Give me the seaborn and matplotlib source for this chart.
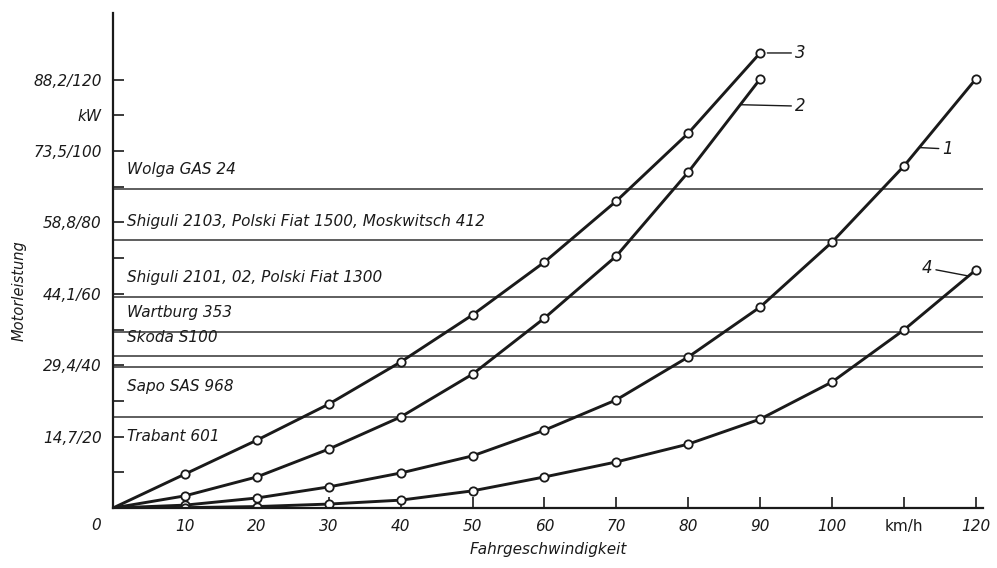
import matplotlib
matplotlib.use("Agg")
import matplotlib.pyplot as plt
import seaborn as sns
import pandas as pd

# ---------------- data ----------------
speed = [0, 10, 20, 30, 40, 50, 60, 70, 80, 90, 100, 110, 120]  # km/h
curve_3 = [0, 9.5, 19.0, 29.1, 40.9, 54.1, 68.9, 86.0, 105.0, 127.5]
curve_2 = [0, 3.4, 8.7, 16.5, 25.5, 37.5, 53.2, 70.6, 94.1, 120.2]
curve_1 = [0, 0.8, 2.8, 5.9, 9.8, 14.6, 21.8, 30.3, 42.3, 56.3, 74.5, 95.8, 120.2]
curve_4 = [0, 0.1, 0.4, 1.1, 2.2, 4.8, 8.7, 12.9, 17.9, 24.9, 35.3, 49.9, 66.7]
curve_names = ["3", "2", "1", "4"]

cars = ["Wolga GAS 24",
        "Shiguli 2103, Polski Fiat 1500, Moskwitsch 412",
        "Shiguli 2101, 02, Polski Fiat 1300",
        "Wartburg 353",
        "Skoda S100",
        "Sapo SAS 968",
        "Trabant 601"]
car_ps = [89.5, 75.0, 59.2, 49.4, 42.5, 39.4, 25.4]
car_label_side = ["above", "above", "above", "above", "above", "below", "below"]

ytick_vals = [10, 20, 30, 40, 50, 60, 70, 80, 90, 100, 110, 120]
ytick_labels = ["", "14,7/20", "", "29,4/40", "", "44,1/60", "", "58,8/80",
                "", "73,5/100", "kW", "88,2/120"]
xtick_vals = [0, 10, 20, 30, 40, 50, 60, 70, 80, 90, 100, 110, 120]
xtick_labels = ["", "10", "20", "30", "40", "50", "60", "70", "80", "90",
                "100", "km/h", "120"]
origin_label = "0"

# ---------------- figure ----------------
sns.set_theme(style="white")
plt.rcParams["font.family"] = ["DejaVu Sans"]
ink = "#1a1a1a"

fig = plt.figure(figsize=(9.97, 5.68), dpi=100)
ax = fig.add_axes([113 / 997, 60 / 568, 870 / 997, 495 / 568])

rows = []
for name, vals in zip(curve_names, [curve_3, curve_2, curve_1, curve_4]):
    for v, p in zip(speed, vals):
        rows.append({"v": v, "ps": p, "curve": name})
df = pd.DataFrame(rows)

for name in curve_names:
    sub = df[df["curve"] == name]
    sns.lineplot(data=sub, x="v", y="ps", ax=ax, color=ink, lw=2.1,
                 marker="o", markersize=6, markerfacecolor="white",
                 markeredgecolor=ink, markeredgewidth=1.3,
                 markevery=list(range(1, len(sub))), zorder=4)

# horizontal reference lines for cars
for name, ps, side in zip(cars, car_ps, car_label_side):
    ax.axhline(ps, xmin=0, xmax=1, color="#333333", lw=1.1, zorder=2)
    if side == "above":
        ax.text(2.0, ps + 3.2, name, fontsize=11, style="italic",
                color=ink, va="bottom", ha="left")
    else:
        ax.text(2.0, ps - 3.2, name, fontsize=11, style="italic",
                color=ink, va="top", ha="left")

# curve labels with leader lines
lead = dict(arrowstyle="-", color=ink, lw=1.0, shrinkA=0, shrinkB=0)
ax.annotate("3", xy=(91.0, 127.5), xytext=(94.8, 127.5), fontsize=12,
            style="italic", color=ink, va="center", ha="left", arrowprops=lead)
ax.annotate("2", xy=(87.3, 113.0), xytext=(94.8, 112.6), fontsize=12,
            style="italic", color=ink, va="center", ha="left", arrowprops=lead)
ax.annotate("1", xy=(112.1, 101.0), xytext=(115.3, 100.6), fontsize=12,
            style="italic", color=ink, va="center", ha="left", arrowprops=lead)
ax.annotate("4", xy=(119.0, 65.0), xytext=(114.0, 67.2), fontsize=12,
            style="italic", color=ink, va="center", ha="right", arrowprops=lead)

# axes
ax.set_xlim(0, 121)
ax.set_ylim(0, 138.7)
for s in ["top", "right"]:
    ax.spines[s].set_visible(False)
for s in ["left", "bottom"]:
    ax.spines[s].set_color(ink)
    ax.spines[s].set_linewidth(1.6)
    ax.spines[s].set_zorder(5)

ax.set_xticks(xtick_vals)
ax.set_xticklabels(xtick_labels, fontsize=11, style="italic", color=ink)
ax.set_yticks(ytick_vals)
ax.set_yticklabels(ytick_labels, fontsize=11, style="italic", color=ink)
ax.tick_params(axis="both", direction="in", length=8, width=1.2, color=ink,
               pad=8, bottom=True, left=True)
ax.get_xticklabels()[-2].set_style("normal")
# origin label sits a little left of the axis corner
ax.annotate(origin_label, xy=(0, 0), xycoords="data", xytext=(-12, -7),
            textcoords="offset points", fontsize=11, style="italic",
            color=ink, ha="center", va="top", annotation_clip=False)

ax.set_xlabel("Fahrgeschwindigkeit", fontsize=11, style="italic", color=ink,
              labelpad=6)
ax.set_ylabel("Motorleistung", fontsize=10.5, style="italic", color=ink)
ax.yaxis.set_label_coords(-0.099, 0.44)
ax.grid(False)

fig.savefig("out.png", dpi=100, facecolor="white")
